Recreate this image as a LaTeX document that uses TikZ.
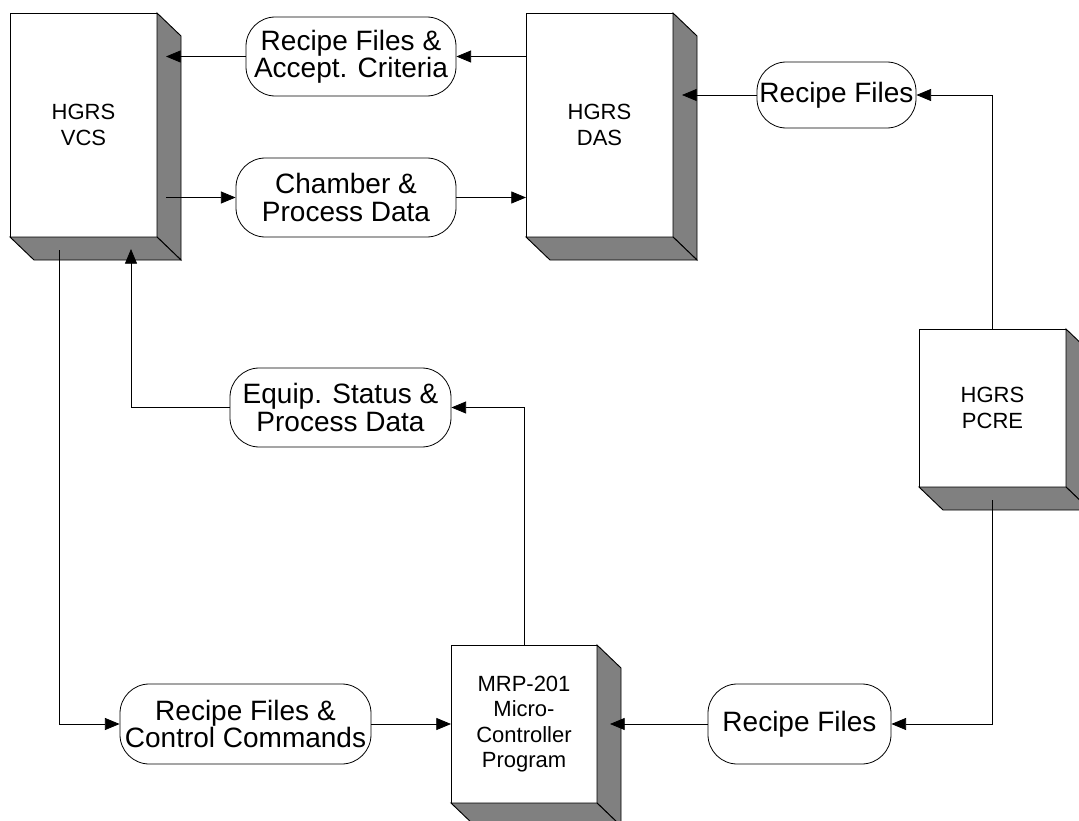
\documentclass[tikz,border=0pt]{standalone}
\usepackage{fontspec}
\setmainfont{Liberation Sans}
\usetikzlibrary{arrows.meta,calc}

\definecolor{faceshade}{RGB}{128,128,128}

\tikzset{
  unit/.style={draw, fill=white, outer sep=0pt, inner sep=0pt, align=center,
    line width=0.7pt, font=\fontsize{16.5}{19}\selectfont},
  flowtag/.style={draw, fill=white, rounded corners=22pt, inner sep=0pt, align=center,
    line width=0.6pt, font=\fontsize{21}{20.5}\selectfont},
  flow/.style={line width=0.6pt, -{Triangle[length=11pt,width=9pt]}}
}

% gray side and bottom of a unit box
\newcommand{\unitdepth}[1]{%
  \filldraw[fill=faceshade, line width=0.7pt] (#1.north east) -- ++(24,23)
    -- ($(#1.south east)+(24,23)$) -- (#1.south east) -- cycle;
  \filldraw[fill=faceshade, line width=0.7pt] (#1.south west) -- ++(24,23)
    -- ($(#1.south east)+(24,23)$) -- (#1.south east) -- cycle;
}

\begin{document}
\begin{tikzpicture}[x=0.75pt,y=-0.75pt]

\clip (0,0) rectangle (1079,821);
\fill[white] (0,0) rectangle (1079,821);

% units
\node [unit, minimum width=110.25pt, minimum height=168pt] (vcs) at (83.5,125) {HGRS\\VCS};
\node [unit, minimum width=110.25pt, minimum height=168pt] (das) at (599.5,125) {HGRS\\DAS};
\node [unit, minimum width=110.25pt, minimum height=118.5pt] (pcre) at (992.5,408) {HGRS\\PCRE};
\node [unit, minimum width=109.5pt, minimum height=118.5pt] (mrp) at (524,724) {MRP-201\\Micro-\\Controller\\Program};

\unitdepth{vcs}
\unitdepth{das}
\unitdepth{pcre}
\unitdepth{mrp}

% points on the gray faces
\coordinate (vcs-side) at ([xshift=6.75pt]vcs.east);
\coordinate (das-side) at ([xshift=6.75pt]das.east);
\coordinate (mrp-side) at ([xshift=9.75pt]mrp.east);
\coordinate (vcs-out) at ($(vcs.south west)+(49,13)$);
\coordinate (vcs-in) at ($(vcs.south west)+(121,12)$);
\coordinate (pcre-out) at ($(pcre.south)+(0,13)$);

% data flows
\node [flowtag, minimum width=157.5pt, minimum height=59.25pt] (accept) at (351,56.5) {Recipe Files \&\\Accept. Criteria};
\node [flowtag, minimum width=165pt, minimum height=59.25pt] (chamber) at (346,197.5) {Chamber \&\\Process Data};
\node [flowtag, minimum width=119.25pt, minimum height=49.5pt] (recipeDas) at (836.5,95) {Recipe Files};
\node [flowtag, minimum width=165.75pt, minimum height=59.25pt] (status) at (340.5,407.5) {Equip. Status \&\\Process Data};
\node [flowtag, minimum width=188.25pt, minimum height=60pt] (control) at (245.5,724) {Recipe Files \&\\Control Commands};
\node [flowtag, minimum width=137.25pt, minimum height=60pt] (recipeMrp) at (799.5,724) {Recipe Files};

% DAS -> VCS
\draw [flow] (das.west |- accept) -- (accept);
\draw [flow] (accept) -- (vcs-side |- accept);

% VCS -> DAS
\draw [flow] (vcs-side |- chamber) -- (chamber);
\draw [flow] (chamber) -- (das.west |- chamber);

% PCRE -> DAS
\draw [flow] (pcre.north) |- (recipeDas);
\draw [flow] (recipeDas) -- (das-side |- recipeDas);

% PCRE -> MRP
\draw [flow] (pcre-out) |- (recipeMrp);
\draw [flow] (recipeMrp) -- (mrp-side |- recipeMrp);

% MRP -> VCS
\draw [flow] (mrp.north) |- (status);
\draw [flow] (status) -| (vcs-in);

% VCS -> MRP
\draw [flow] (vcs-out) |- (control);
\draw [flow] (control) -- (mrp.west |- control);

\end{tikzpicture}
\end{document}
